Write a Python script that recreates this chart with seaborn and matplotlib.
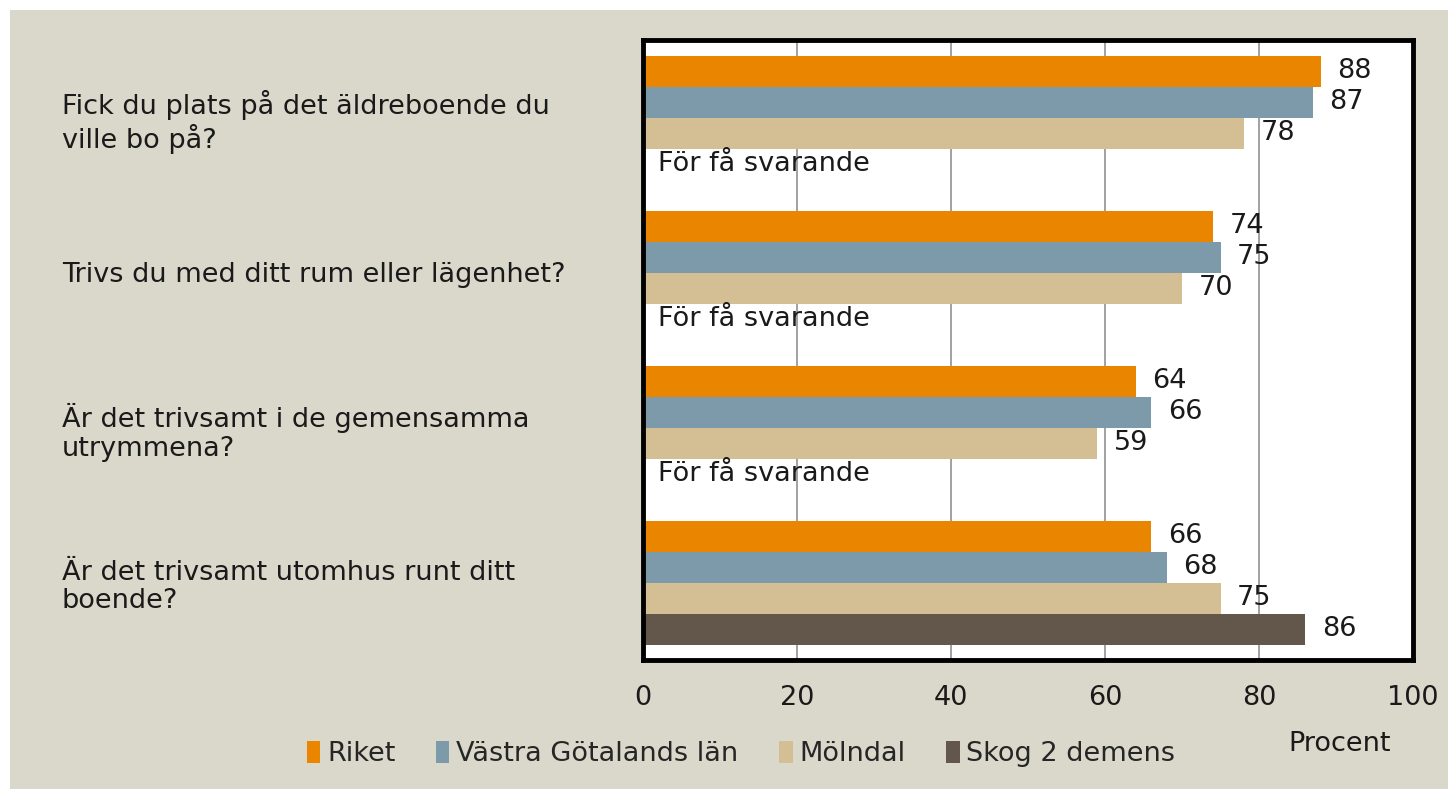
import matplotlib
matplotlib.use("Agg")
import matplotlib.pyplot as plt
import seaborn as sns
import pandas as pd
import numpy as np
from matplotlib.patches import Rectangle, Patch

questions = [
    "Fick du plats på det äldreboende du\nville bo på?",
    "Trivs du med ditt rum eller lägenhet?",
    "Är det trivsamt i de gemensamma\nutrymmena?",
    "Är det trivsamt utomhus runt ditt\nboende?",
]
series = ["Riket", "Västra Götalands län", "Mölndal", "Skog 2 demens"]
riket = [88, 74, 64, 66]
vgl = [87, 75, 66, 68]
molndal = [78, 70, 59, 75]
skog = [np.nan, np.nan, np.nan, 86]
missing_text = "För få svarande"
xticks = [0, 20, 40, 60, 80, 100]
xlabel = "Procent"

colors = ["#EA8500", "#7D9AAA", "#D4BE94", "#63564B"]
bg = "#DAD8CB"

rows = []
for s, vals in zip(series, [riket, vgl, molndal, skog]):
    for q, v in zip(questions, vals):
        if not np.isnan(v):
            rows.append({"Fråga": q, "Serie": s, "Procent": v})
df = pd.DataFrame(rows)

sns.set_theme(style="white")
plt.rcParams["font.family"] = ["DejaVu Sans"]
FS = 19.5
TC = "#1a1a1a"

fig = plt.figure(figsize=(14.48, 7.89), dpi=100)
fig.patch.set_facecolor("white")
fig.add_artist(Rectangle((10 / 1448, 0), 1 - 10 / 1448, 1 - 10 / 789,
                         transform=fig.transFigure, facecolor=bg,
                         edgecolor="none", zorder=-10))

ax = fig.add_axes([643 / 1448, 1 - 660 / 789, 770 / 1448, 620 / 789])
ax.set_facecolor("white")

sns.barplot(data=df, y="Fråga", x="Procent", hue="Serie", order=questions,
            hue_order=series, palette=colors, orient="h", width=0.8,
            saturation=1, errorbar=None, ax=ax, legend=False, zorder=3,
            linewidth=0, edgecolor="none")

for c in ax.containers:
    ax.bar_label(c, fmt="{:.0f}", padding=12, fontsize=FS, color=TC)

for i in range(3):
    ax.text(2, i + 0.3, missing_text, va="center", ha="left",
            fontsize=FS, color=TC, zorder=5)

ax.set_xlim(0, 100)
ax.set_ylim(3.5, -0.5)
ax.set_xticks(xticks)
ax.set_xticklabels([str(t) for t in xticks], fontsize=FS, color=TC)
ax.tick_params(axis="x", length=0, pad=18)
ax.set_yticks(range(len(questions)))
ax.set_yticklabels(questions, fontsize=FS, color=TC, linespacing=1.15)
ax.tick_params(axis="y", length=0, pad=(643 - 62) * 0.72)
for lbl in ax.get_yticklabels():
    lbl.set_horizontalalignment("left")
ax.set_xlabel("")
ax.set_ylabel("")
ax.grid(axis="x", color="#888888", linewidth=1.1, zorder=0)
ax.set_axisbelow(True)
for sp in ax.spines.values():
    sp.set_visible(True)
    sp.set_color("black")
    sp.set_linewidth(3.5)
    sp.set_zorder(6)

fig.text(1340 / 1448, 1 - 744 / 789, xlabel, ha="center", va="center",
         fontsize=FS, color=TC)

handles = [Patch(facecolor=c, edgecolor="none") for c in colors]
fig.legend(handles, series, loc="center", bbox_to_anchor=(741 / 1448, 1 - 754 / 789),
           ncol=4, frameon=False, fontsize=FS, handlelength=0.5, handleheight=0.9,
           handletextpad=0.25, columnspacing=1.5)

fig.savefig("out.png", dpi=100, facecolor=fig.get_facecolor())
